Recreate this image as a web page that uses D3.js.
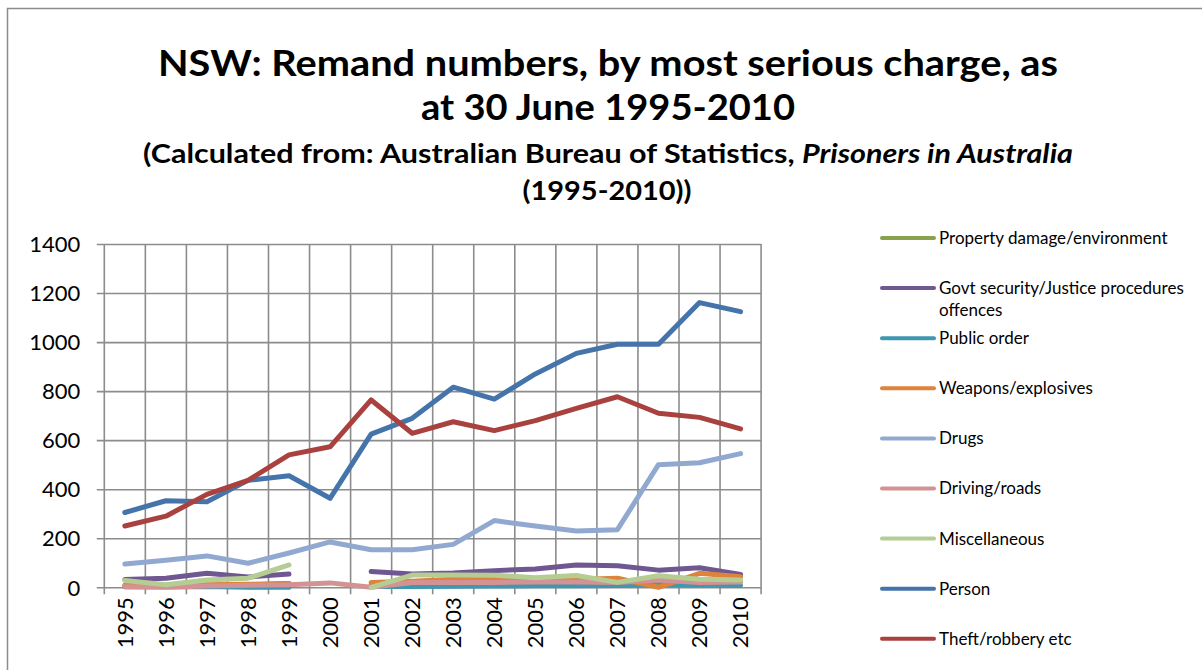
<!DOCTYPE html>
<html>
<head>
<meta charset="utf-8">
<script src="https://cdn.jsdelivr.net/npm/d3@7/dist/d3.min.js"></script>
<style>
  body { margin: 0; background: #fff; }
  svg text { font-family: Lato, "Open Sans", sans-serif; fill: #000; }
</style>
</head>
<body>
<svg id="chart" width="1202" height="670"></svg>
<script>
const years = ['1995', '1996', '1997', '1998', '1999', '2000', '2001', '2002',
  '2003', '2004', '2005', '2006', '2007', '2008', '2009', '2010'];
const yTicks = [0, 200, 400, 600, 800, 1000, 1200, 1400];

// remand numbers per charge, null = no figure that year
const propertyDamage = [5, 3, 8, 10, 15, null, 10, 20, 25, 25, 25, 25, 20, 25, 25, 25];
const govtSecurity = [32, 37, 57, 42, 54, null, 64, 54, 58, 68, 75, 91, 88, 70, 80, 52];
const publicOrder = [2, 2, 3, 0, 0, null, 3, 3, 4, 5, 6, 6, 7, 9, 9, 7];
const weapons = [8, 5, 10, 12, 15, null, 20, 25, 33, 33, 30, 32, 37, 0, 57, 43];
const drugs = [95, 110, 128, 98, 140, 185, 153, 153, 175, 272, 250, 230, 235, 500, 508, 545];
const driving = [2, 0, 5, 8, 10, 18, 0, 20, 20, 20, 22, 22, 20, 30, 20, 22];
const miscellaneous = [28, 10, 30, 37, 91, null, 0, 50, 50, 49, 39, 48, 20, 47, 33, 30];
const person = [305, 353, 349, 436, 455, 363, 625, 689, 816, 767, 870, 954, 991, 991, 1161, 1124];
const theft = [250, 290, 379, 436, 540, 573, 764, 628, 675, 639, 680, 730, 777, 710, 693, 646];

const series = [
  { name: 'Property damage/environment', values: propertyDamage, color: '#86a24c' },
  { name: ['Govt security/Justice procedures', 'offences'], values: govtSecurity, color: '#6f5792' },
  { name: 'Public order', values: publicOrder, color: '#3f97b0' },
  { name: 'Weapons/explosives', values: weapons, color: '#dd833b' },
  { name: 'Drugs', values: drugs, color: '#91a9d0' },
  { name: 'Driving/roads', values: driving, color: '#d39293' },
  { name: 'Miscellaneous', values: miscellaneous, color: '#b5cc93' },
  { name: 'Person', values: person, color: '#4574ab' },
  { name: 'Theft/robbery etc', values: theft, color: '#a9423f' }
];

const svg = d3.select('#chart');
const margin = { top: 244, left: 104.3, width: 656.8, height: 343.3 };

// outer chart border
svg.append('rect')
  .attr('x', 7.5).attr('y', 8.5)
  .attr('width', 1230).attr('height', 700)
  .attr('fill', '#fff')
  .attr('stroke', '#8c8c8c')
  .attr('stroke-width', 1.5);

// titles
const titles = svg.append('g').attr('font-weight', 'bold');
titles.append('text')
  .attr('x', 608).attr('y', 76)
  .attr('text-anchor', 'middle')
  .attr('font-size', 37)
  .attr('textLength', 900).attr('lengthAdjust', 'spacingAndGlyphs')
  .text('NSW: Remand numbers, by most serious charge, as');
titles.append('text')
  .attr('x', 608).attr('y', 120)
  .attr('text-anchor', 'middle')
  .attr('font-size', 37)
  .attr('textLength', 374).attr('lengthAdjust', 'spacingAndGlyphs')
  .text('at 30 June 1995-2010');
const sub = titles.append('text')
  .attr('x', 608).attr('y', 163)
  .attr('text-anchor', 'middle')
  .attr('font-size', 26)
  .attr('textLength', 930).attr('lengthAdjust', 'spacingAndGlyphs');
sub.append('tspan').text('(Calculated from: Australian Bureau of Statistics, ');
sub.append('tspan').attr('font-style', 'italic').text('Prisoners in Australia');
titles.append('text')
  .attr('x', 607).attr('y', 200)
  .attr('text-anchor', 'middle')
  .attr('font-size', 26)
  .attr('textLength', 169).attr('lengthAdjust', 'spacingAndGlyphs')
  .text('(1995-2010))');

const g = svg.append('g').attr('transform', `translate(${margin.left},${margin.top})`);

const x = d3.scaleBand().domain(years).range([0, margin.width]);
const y = d3.scaleLinear().domain([0, 1400]).range([margin.height, 0]);

// horizontal grid + y axis with outside ticks
g.append('g')
  .attr('class', 'axis axis--y')
  .call(d3.axisLeft(y).tickValues(yTicks).tickFormat(d3.format('d'))
    .tickSize(7).tickPadding(17).tickSizeOuter(0))
  .call(a => a.select('.domain').remove())
  .call(a => a.selectAll('line').attr('x2', margin.width).attr('x1', -7.5))
  .call(a => a.selectAll('text').attr('font-size', 22).attr('dy', '0.35em'));

// vertical grid at category boundaries
g.append('g')
  .selectAll('line')
  .data(d3.range(years.length + 1))
  .enter().append('line')
  .attr('x1', d => d * x.bandwidth())
  .attr('x2', d => d * x.bandwidth())
  .attr('y1', 0)
  .attr('y2', margin.height + 7);

g.selectAll('line')
  .attr('stroke', '#8c8c8c')
  .attr('stroke-width', 1.6);

// rotated year labels
g.append('g')
  .selectAll('text')
  .data(years)
  .enter().append('text')
  .attr('transform', d => `translate(${x(d) + x.bandwidth() / 2},${margin.height + 10}) rotate(-90)`)
  .attr('text-anchor', 'end')
  .attr('dy', '0.35em')
  .attr('font-size', 22)
  .text(d => d);

const line = d3.line()
  .defined(d => d != null)
  .x((d, i) => x(years[i]) + x.bandwidth() / 2)
  .y(d => y(d));

g.append('g')
  .selectAll('path')
  .data(series)
  .enter().append('path')
  .attr('fill', 'none')
  .attr('stroke', d => d.color)
  .attr('stroke-width', 5)
  .attr('stroke-linecap', 'round')
  .attr('stroke-linejoin', 'round')
  .attr('d', d => line(d.values));

// legend
const legend = svg.append('g')
  .selectAll('.item')
  .data(series)
  .enter().append('g')
  .attr('class', 'item')
  .attr('transform', (d, i) => `translate(0,${238 + i * 50.1})`);

legend.append('line')
  .attr('x1', 882).attr('x2', 934)
  .attr('stroke', d => d.color)
  .attr('stroke-width', 4)
  .attr('stroke-linecap', 'round');

legend.append('text')
  .attr('x', 939)
  .attr('font-size', 17)
  .each(function (d) {
    const names = Array.isArray(d.name) ? d.name : [d.name];
    names.forEach((n, k) => {
      d3.select(this).append('tspan')
        .attr('x', 939)
        .attr('y', k * 22)
        .attr('dy', '0.35em')
        .text(n);
    });
  });
</script>
</body>
</html>
